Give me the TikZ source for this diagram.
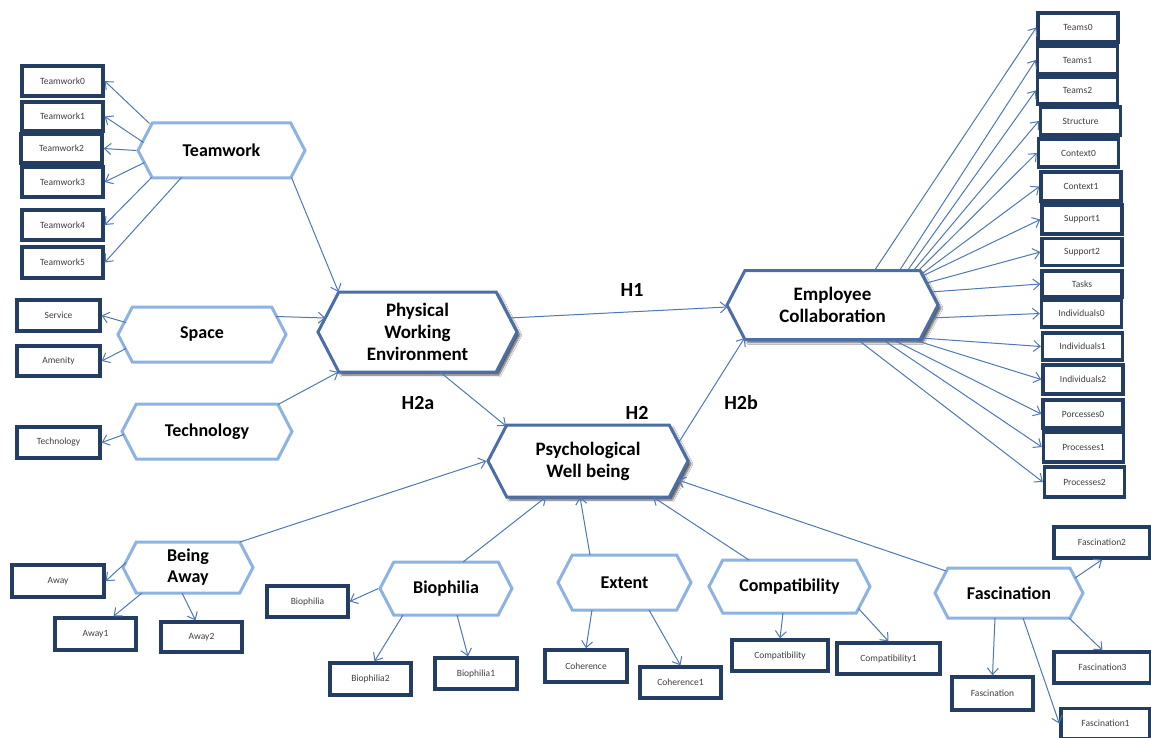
\documentclass[tikz,border=0pt]{standalone}
\usepackage{fontspec}
\setmainfont{Carlito}
\usetikzlibrary{shapes.symbols,arrows.meta,shadows.blur}
\definecolor{hexlight}{RGB}{141,179,226}
\definecolor{hexdark}{RGB}{74,110,165}
\definecolor{boxedge}{RGB}{36,62,99}
\definecolor{linkc}{RGB}{79,120,180}
\definecolor{boxtext}{RGB}{64,64,64}
\tikzset{
  hexagon/.style={signal, signal to=east and west, signal pointer angle=125,
    fill=white, align=center, inner sep=0pt,
    font=\bfseries\fontsize{18}{21}\selectfont},
  minor/.style={hexagon, draw=hexlight, line width=3pt},
  major/.style={hexagon, draw=hexdark, line width=3pt,
    font=\bfseries\fontsize{19}{22}\selectfont,
    blur shadow={shadow xshift=3pt, shadow yshift=-3pt, shadow blur steps=6, shadow opacity=65}},
  item/.style={rectangle, draw=boxedge, line width=3.4pt, fill=white, inner sep=0pt,
    minimum width=80pt, minimum height=29pt, text=boxtext,
    font=\fontsize{9.5}{11}\selectfont},
  link/.style={draw=linkc, line width=1pt, -{Straight Barb[length=6.5pt,width=11pt]}},
  hyp/.style={font=\bfseries\fontsize{20}{22}\selectfont}
}
\begin{document}
\begin{tikzpicture}[x=1pt,y=-1pt]
\useasboundingbox[fill=white] (0,0) rectangle (1151,738);

% constructs
\node[minor, minimum width=167pt, minimum height=55pt] (tw)  at (221.5,150.5) {Teamwork};
\node[minor, minimum width=168pt, minimum height=55pt] (sp)  at (202,334.5) {Space};
\node[minor, minimum width=170pt, minimum height=55pt] (te)  at (207,431.5) {Technology};
\node[major, minimum width=199pt, minimum height=80pt] (pwe) at (417.5,332) {Physical\\Working\\Environment};
\node[major, minimum width=211pt, minimum height=69pt] (ec)  at (832.5,305) {Employee\\Collaboration};
\node[major, minimum width=200pt, minimum height=72pt] (pwb) at (588,461) {Psychological\\Well being};
\node[minor, minimum width=130pt, minimum height=51pt] (ba)  at (188,567.5) {Being\\Away};
\node[minor, minimum width=132pt, minimum height=53pt] (bio) at (446,588.5) {Biophilia};
\node[minor, minimum width=133pt, minimum height=55pt] (ext) at (624.5,582.5) {Extent};
\node[minor, minimum width=161pt, minimum height=53pt] (com) at (789.5,586.5) {Compatibility};
\node[minor, minimum width=148pt, minimum height=50pt] (fas) at (1009,593) {Fascination};

% hypothesis labels
\node[hyp] (h1)  at (632,290) {H1};
\node[hyp] (h2a) at (418,403) {H2a};
\node[hyp] (h2)  at (637,413) {H2};
\node[hyp] (h2b) at (741,403) {H2b};

% teamwork items
\node[item, minimum width=81pt, minimum height=30pt] (tw0) at (62.5,81) {Teamwork0};
\node[item, minimum width=81pt] (tw1) at (62.5,116.5) {Teamwork1};
\node[item, minimum width=81pt] (tw2) at (61.5,148.5) {Teamwork2};
\node[item, minimum width=81pt, minimum height=30pt] (tw3) at (62.5,182) {Teamwork3};
\node[item, minimum width=81pt, minimum height=30pt] (tw4) at (62.5,225) {Teamwork4};
\node[item, minimum width=81pt, minimum height=31pt] (tw5) at (62.5,262.5) {Teamwork5};
% space and technology items
\node[item, minimum width=83pt, minimum height=31pt] (srv) at (58.5,315.5) {Service};
\node[item, minimum width=83pt, minimum height=30pt] (amn) at (58.5,361) {Amenity};
\node[item, minimum width=83pt, minimum height=31pt] (tec) at (58.5,442.5) {Technology};

% collaboration items
\node[item, minimum height=29pt] (c1)  at (1078,27.5)   {Teams0};
\node[item, minimum height=28pt] (c2)  at (1077.5,60)   {Teams1};
\node[item, minimum height=27pt] (c3)  at (1077.5,90.5) {Teams2};
\node[item, minimum height=28pt] (c4)  at (1080.5,121)  {Structure};
\node[item, minimum height=28pt] (c5)  at (1078.5,153)  {Context0};
\node[item, minimum height=29pt] (c6)  at (1081,186.5)  {Context1};
\node[item, minimum height=29pt] (c7)  at (1082,219.5)  {Support1};
\node[item, minimum height=27pt] (c8)  at (1082,252)    {Support2};
\node[item, minimum height=26pt] (c9)  at (1082,284)    {Tasks};
\node[item, minimum height=27pt] (c10) at (1081.5,313.5){Individuals0};
\node[item, minimum height=27pt] (c11) at (1082.5,346.5){Individuals1};
\node[item, minimum height=29pt] (c12) at (1083,379.5)  {Individuals2};
\node[item, minimum height=28pt] (c13) at (1083,414)    {Porcesses0};
\node[item, minimum height=30pt] (c14) at (1083.5,447)  {Processes1};
\node[item, minimum height=30pt] (c15) at (1084.5,482)  {Processes2};

% restoration items
\node[item, minimum width=92pt, minimum height=32pt] (aw)  at (58,581)     {Away};
\node[item, minimum width=81pt, minimum height=32pt] (aw1) at (95.5,634)   {Away1};
\node[item, minimum width=81pt, minimum height=30pt] (aw2) at (201.5,637)  {Away2};
\node[item, minimum width=81pt, minimum height=31pt] (b0)  at (307.5,601.5){Biophilia};
\node[item, minimum width=81pt, minimum height=32pt] (b2)  at (370.5,679)  {Biophilia2};
\node[item, minimum width=82pt, minimum height=31pt] (b1)  at (476,673.5)  {Biophilia1};
\node[item, minimum width=82pt, minimum height=32pt] (co0) at (586,666)    {Coherence};
\node[item, minimum width=81pt, minimum height=31pt] (co1) at (680.5,682.5){Coherence1};
\node[item, minimum width=96pt, minimum height=31pt] (cp0) at (780,655.5)  {Compatibility};
\node[item, minimum width=103pt, minimum height=31pt](cp1) at (888.5,658.5){Compatibility1};
\node[item, minimum width=96pt, minimum height=31pt] (f2)  at (1102,542.5) {Fascination2};
\node[item, minimum width=97pt, minimum height=31pt] (f3)  at (1102.5,667.5){Fascination3};
\node[item, minimum width=81pt, minimum height=33pt] (f0)  at (992.5,693.5){Fascination};
\node[item, minimum width=89pt, minimum height=30pt] (f1)  at (1105.5,723.5){Fascination1};

% teamwork indicators
\draw[link] ([shift={(-72,-27)}]tw.center) -- (tw0.east);
\draw[link] ([shift={(-78,-8)}]tw.center)  -- (tw1.east);
\draw[link] (tw.west) -- (tw2.east);
\draw[link] ([shift={(-77,12)}]tw.center)  -- (tw3.east);
\draw[link] ([shift={(-70,27)}]tw.center)  -- (tw4.east);
\draw[link] ([shift={(-40,27)}]tw.center)  -- (tw5.east);
% space and technology indicators
\draw[link] ([shift={(-76,-12)}]sp.center) -- (srv.east);
\draw[link] ([shift={(-76,14)}]sp.center)  -- (amn.east);
\draw[link] ([shift={(-83,3)}]te.center)   -- (tec.east);

% structural paths
\draw[link] ([shift={(70,27)}]tw.center)  -- ([shift={(-79,-40)}]pwe.center);
\draw[link] ([shift={(74,-18)}]sp.center) -- ([shift={(-92,-14)}]pwe.center);
\draw[link] ([shift={(71,-27)}]te.center) -- ([shift={(-79,40)}]pwe.center);
\draw[link] ([shift={(92,-14)}]pwe.center) -- ([shift={(-105,2)}]ec.center);
\draw[link] ([shift={(22.5,40)}]pwe.center) -- ([shift={(-82,-35)}]pwb.center);
\draw[link] ([shift={(91,-19)}]pwb.center) -- ([shift={(-88,33)}]ec.center);

% collaboration indicators
\draw[link] ([shift={(42,-34.5)}]ec.center) -- (c1.west);
\draw[link] ([shift={(67,-34.5)}]ec.center) -- (c2.west);
\draw[link] ([shift={(75,-34.5)}]ec.center) -- (c3.west);
\draw[link] ([shift={(81,-34.5)}]ec.center) -- (c4.west);
\draw[link] ([shift={(86,-34.5)}]ec.center) -- (c5.west);
\draw[link] ([shift={(89,-31)}]ec.center)   -- (c6.west);
\draw[link] ([shift={(90,-29)}]ec.center)   -- (c7.west);
\draw[link] ([shift={(94,-22)}]ec.center)   -- (c8.west);
\draw[link] ([shift={(98,-13)}]ec.center)   -- (c9.west);
\draw[link] ([shift={(98,13)}]ec.center)    -- (c10.west);
\draw[link] ([shift={(88,33)}]ec.center)    -- (c11.west);
\draw[link] ([shift={(80,34.5)}]ec.center)  -- (c12.west);
\draw[link] ([shift={(60,34.5)}]ec.center)  -- (c13.west);
\draw[link] ([shift={(50,34.5)}]ec.center)  -- (c14.west);
\draw[link] ([shift={(25,34.5)}]ec.center)  -- (c15.west);

% restoration constructs into well being
\draw[link] ([shift={(52,-25.5)}]ba.center)  -- (pwb.west);
\draw[link] ([shift={(17,-26.5)}]bio.center) -- ([shift={(-42,36)}]pwb.center);
\draw[link] ([shift={(-34.5,-27.5)}]ext.center) -- ([shift={(-8,36)}]pwb.center);
\draw[link] ([shift={(-40.5,-26.5)}]com.center) -- ([shift={(65,36)}]pwb.center);
\draw[link] ([shift={(-63,-22)}]fas.center) -- ([shift={(90,19)}]pwb.center);

% restoration indicators
\draw[link] ([shift={(-62,-5)}]ba.center)   -- (aw.east);
\draw[link] ([shift={(-46,25.5)}]ba.center) -- ([xshift=18pt]aw1.north);
\draw[link] ([shift={(-6,25.5)}]ba.center)  -- ([xshift=-6pt]aw2.north);
\draw[link] (bio.west) -- (b0.east);
\draw[link] ([shift={(-43,26.5)}]bio.center) -- ([xshift=4pt]b2.north);
\draw[link] ([shift={(11,26.5)}]bio.center)  -- ([xshift=-8pt]b1.north);
\draw[link] ([shift={(-32.5,27.5)}]ext.center) -- (co0.north);
\draw[link] ([shift={(24.5,27.5)}]ext.center)  -- (co1.north);
\draw[link] ([shift={(-6.5,26.5)}]com.center)  -- (cp0.north);
\draw[link] ([shift={(69,22)}]com.center)      -- (cp1.north);
\draw[link] ([shift={(66,-15)}]fas.center) -- (f2.south);
\draw[link] ([shift={(60,25)}]fas.center)  -- (f3.north);
\draw[link] ([shift={(-14,25)}]fas.center) -- (f0.north);
\draw[link] ([shift={(14,25)}]fas.center)  -- (f1.west);
\end{tikzpicture}
\end{document}
